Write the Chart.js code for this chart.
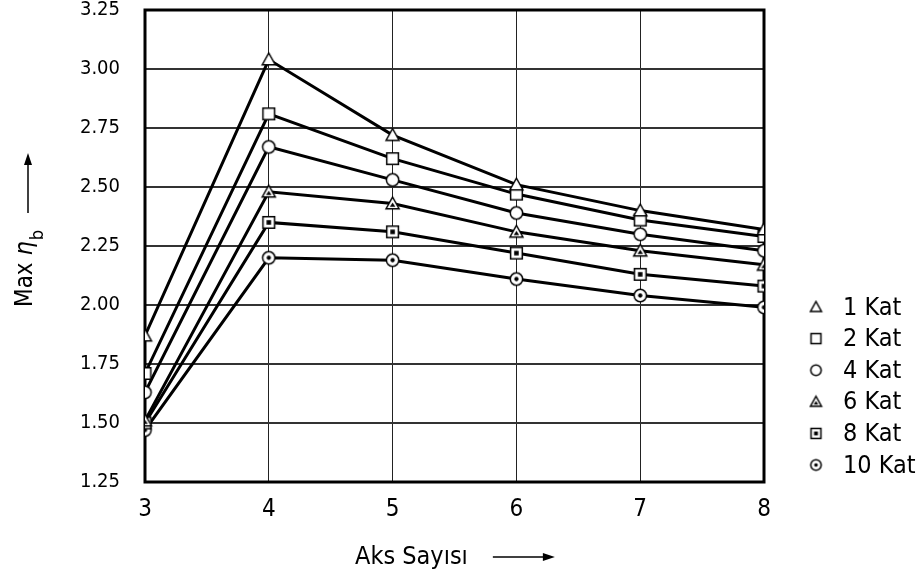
<!DOCTYPE html>
<html>
<head>
<meta charset="utf-8">
<script src="https://cdn.jsdelivr.net/npm/chart.js@4.4.1/dist/chart.umd.min.js"></script>
<style>
html,body{margin:0;padding:0;background:#fff;}
#c{display:block;}
</style>
</head>
<body>
<canvas id="c" width="923" height="573"></canvas>
<script>
// ---- data ----
const aksSayisi = [3, 4, 5, 6, 7, 8];
const seriesLabels = ['1 Kat', '2 Kat', '4 Kat', '6 Kat', '8 Kat', '10 Kat'];
const kat1  = [1.87, 3.04, 2.72, 2.51, 2.40, 2.32];
const kat2  = [1.71, 2.81, 2.62, 2.47, 2.36, 2.29];
const kat4  = [1.63, 2.67, 2.53, 2.39, 2.30, 2.23];
const kat6  = [1.51, 2.48, 2.43, 2.31, 2.23, 2.17];
const kat8  = [1.50, 2.35, 2.31, 2.22, 2.13, 2.08];
const kat10 = [1.47, 2.20, 2.19, 2.11, 2.04, 1.99];
const yTicks = [1.25, 1.50, 1.75, 2.00, 2.25, 2.50, 2.75, 3.00, 3.25];
const xTitle = 'Aks Sayısı';
const yTitleMain = 'Max ';
const yTitleSym = 'η';
const yTitleSub = 'b';

const FONT = '"DejaVu Sans Condensed", "DejaVu Sans", sans-serif';

// ---- marker images ----
function makeMarker(kind, inner, size) {
  const s = size;
  const c = document.createElement('canvas');
  c.width = s + 4; c.height = s + 4;
  const g = c.getContext('2d');
  const cx = c.width / 2, cy = c.height / 2, r = s / 2;
  g.lineWidth = 1.5;
  g.strokeStyle = '#000';
  g.fillStyle = '#fff';
  g.beginPath();
  if (kind === 'tri') {
    g.moveTo(cx, cy - r);
    g.lineTo(cx + r, cy + r * 0.8);
    g.lineTo(cx - r, cy + r * 0.8);
    g.closePath();
  } else if (kind === 'rect') {
    g.rect(cx - r * 0.9, cy - r * 0.9, r * 1.8, r * 1.8);
  } else {
    g.arc(cx, cy, r * 0.95, 0, Math.PI * 2);
  }
  g.fill(); g.stroke();
  if (inner) {
    g.fillStyle = '#000';
    g.beginPath();
    if (kind === 'tri') {
      g.moveTo(cx, cy - r * 0.15);
      g.lineTo(cx + r * 0.42, cy + r * 0.5);
      g.lineTo(cx - r * 0.42, cy + r * 0.5);
      g.closePath();
    } else if (kind === 'rect') {
      g.rect(cx - r * 0.35, cy - r * 0.35, r * 0.7, r * 0.7);
    } else {
      g.arc(cx, cy, r * 0.33, 0, Math.PI * 2);
    }
    g.fill();
  }
  return c;
}
const markerDefs = [['tri', false], ['rect', false], ['circ', false], ['tri', true], ['rect', true], ['circ', true]];
const plotMarkers = markerDefs.map(d => makeMarker(d[0], d[1], 13));
const legendMarkers = markerDefs.map(d => makeMarker(d[0], d[1], 11));

const allSeries = [kat1, kat2, kat4, kat6, kat8, kat10];
const datasets = allSeries.map((vals, i) => ({
  label: seriesLabels[i],
  data: aksSayisi.map((x, j) => ({ x: x, y: vals[j] })),
  borderColor: '#000',
  borderWidth: 3,
  pointStyle: plotMarkers[i],
  pointRadius: 6,
  pointHoverRadius: 6,
  tension: 0,
  fill: false
}));

// ---- plugins ----
const frameAndText = {
  id: 'frameAndText',
  beforeDatasetsDraw(chart) {
    const { ctx, chartArea: a } = chart;
    ctx.save();
    ctx.strokeStyle = '#000';
    ctx.lineWidth = 3;
    ctx.strokeRect(a.left, a.top, a.right - a.left, a.bottom - a.top);
    ctx.restore();
  },
  afterDraw(chart) {
    const { ctx } = chart;
    ctx.save();
    ctx.fillStyle = '#000';
    ctx.strokeStyle = '#000';
    // x title
    ctx.font = '25px ' + FONT;
    ctx.textBaseline = 'alphabetic';
    ctx.textAlign = 'left';
    const xt0 = 355, xtBase = 564;
    ctx.fillText(xTitle, xt0, xtBase);
    const xw = ctx.measureText(xTitle).width;
    const ax0 = xt0 + xw + 25, ax1 = ax0 + 62, ay = 557;
    ctx.lineWidth = 1.5;
    ctx.beginPath(); ctx.moveTo(ax0, ay); ctx.lineTo(ax1 - 8, ay); ctx.stroke();
    ctx.beginPath(); ctx.moveTo(ax1, ay); ctx.lineTo(ax1 - 12, ay - 4); ctx.lineTo(ax1 - 12, ay + 4); ctx.closePath(); ctx.fill();

    // y title (rotated)
    ctx.translate(32, 307);
    ctx.rotate(-Math.PI / 2);
    ctx.font = '24px ' + FONT;
    ctx.fillText(yTitleMain, 0, 0);
    let px = ctx.measureText(yTitleMain).width;
    ctx.font = 'italic 25px ' + FONT;
    ctx.fillText(yTitleSym, px, 0);
    px += ctx.measureText(yTitleSym).width + 1;
    ctx.font = '18px ' + FONT;
    ctx.fillText(yTitleSub, px, 11);
    ctx.lineWidth = 1.5;
    const ly = -4, a0 = 94, a1 = 154;
    ctx.beginPath(); ctx.moveTo(a0, ly); ctx.lineTo(a1 - 8, ly); ctx.stroke();
    ctx.beginPath(); ctx.moveTo(a1, ly); ctx.lineTo(a1 - 12, ly - 4); ctx.lineTo(a1 - 12, ly + 4); ctx.closePath(); ctx.fill();
    ctx.restore();

    // legend
    ctx.save();
    ctx.font = '25px ' + FONT;
    ctx.textBaseline = 'middle';
    ctx.textAlign = 'left';
    ctx.fillStyle = '#000';
    chart.data.datasets.forEach((ds, i) => {
      const y = 307 + i * 31.6;
      const m = legendMarkers[i];
      ctx.drawImage(m, 816 - m.width / 2, y - m.height / 2);
      ctx.fillText(ds.label, 843, y + 1);
    });
    ctx.restore();
  }
};

new Chart(document.getElementById('c'), {
  type: 'line',
  data: { datasets: datasets },
  options: {
    responsive: false,
    animation: false,
    devicePixelRatio: 1,
    layout: { autoPadding: false, padding: { left: 0, right: 159, top: 10, bottom: 0 } },
    plugins: { legend: { display: false }, tooltip: { enabled: false }, title: { display: false } },
    scales: {
      x: {
        type: 'linear',
        min: 3, max: 8,
        afterFit(scale) { scale.height = 91; scale.paddingLeft = 0; scale.paddingRight = 0; scale.paddingTop = 0; scale.paddingBottom = 0; },
        ticks: { stepSize: 1, color: '#000', padding: 13, font: { family: FONT, size: 24 } },
        grid: { color: '#222', lineWidth: 1, drawTicks: false },
        border: { display: false }
      },
      y: {
        type: 'linear',
        min: 1.25, max: 3.25,
        afterFit(scale) { scale.width = 145; scale.paddingTop = 0; scale.paddingBottom = 0; scale.paddingLeft = 0; scale.paddingRight = 0; },
        afterBuildTicks(scale) { scale.ticks = yTicks.map(v => ({ value: v })); },
        ticks: { color: '#000', padding: 25, font: { family: FONT, size: 20 },
                 callback: v => Number(v).toFixed(2) },
        grid: { color: '#333', lineWidth: 2, drawTicks: false },
        border: { display: false }
      }
    }
  },
  plugins: [frameAndText]
});
</script>
</body>
</html>
